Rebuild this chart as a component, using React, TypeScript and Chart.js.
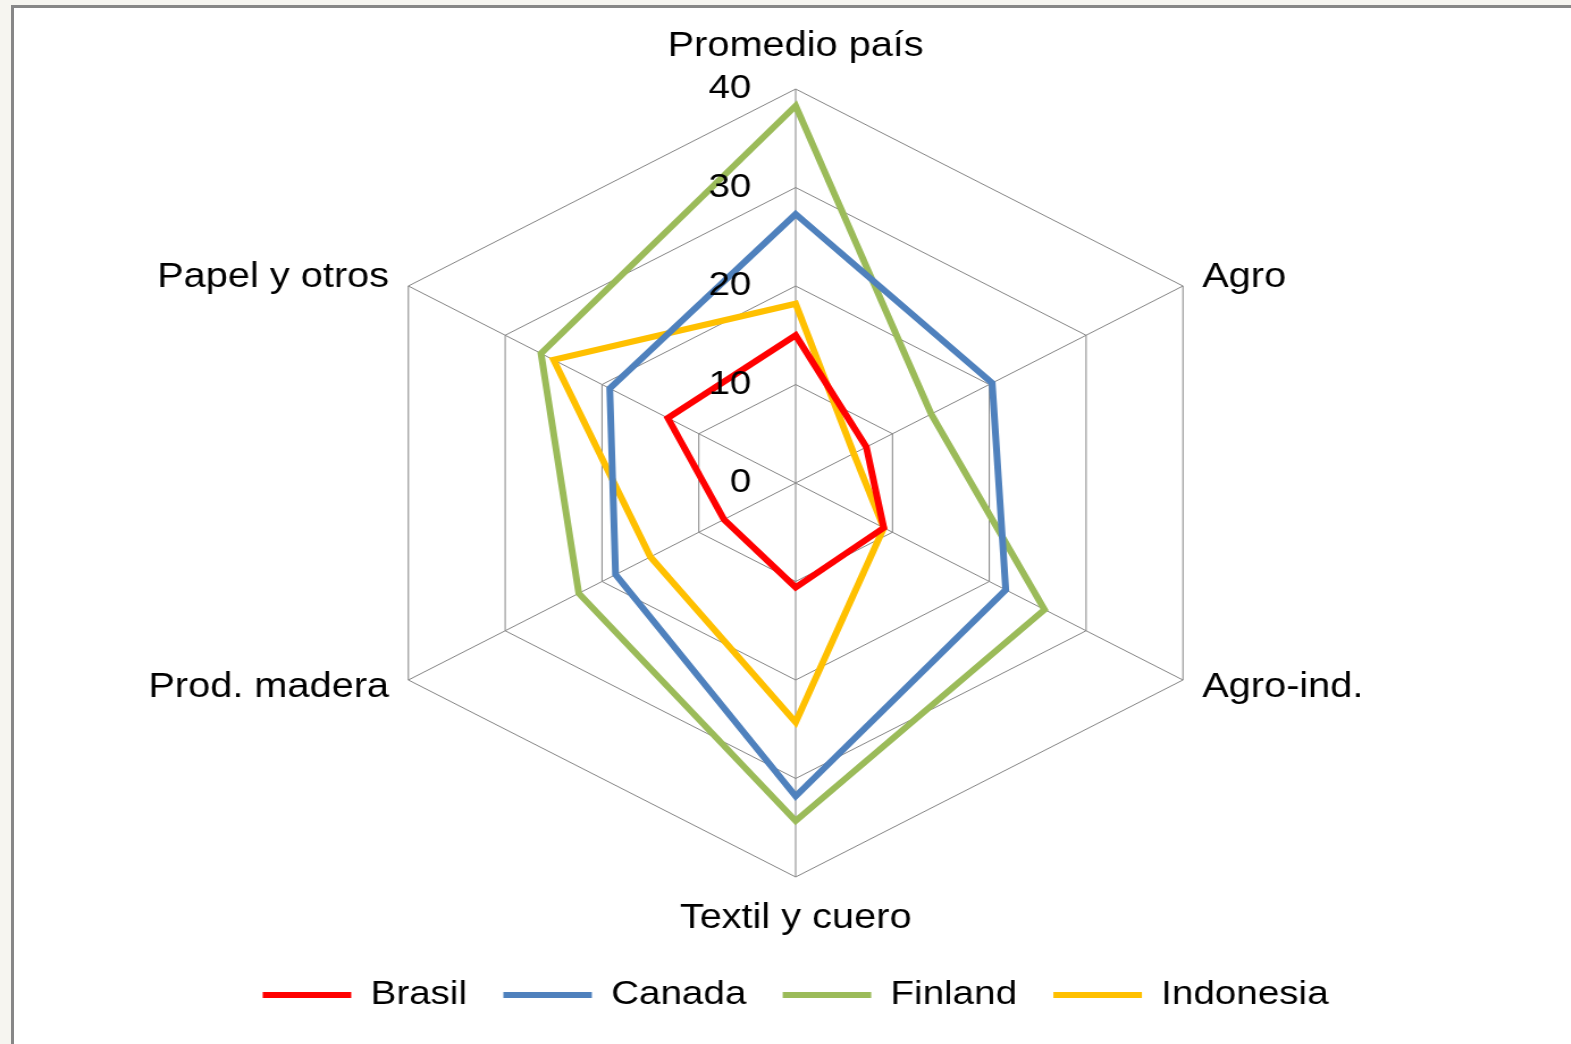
import { useEffect, useRef } from 'react';
import { Chart, registerables } from 'chart.js';

Chart.register(...registerables);

const categories = ['Promedio país', 'Agro', 'Agro-ind.', 'Textil y cuero', 'Prod. madera', 'Papel y otros'];
const seriesNames = ['Brasil', 'Canada', 'Finland', 'Indonesia'];
const brasil = [15, 7.3, 9.1, 10.6, 7.4, 13.2];
const canada = [27.3, 20.3, 21.7, 31.8, 18.6, 19.2];
const finland = [38.3, 14, 25.7, 34.3, 22.4, 26.3];
const indonesia = [18.2, 6, 9.1, 24.3, 15, 25];
const tickLabels = ['0', '10', '20', '30', '40'];

const seriesColors = ['#FF0000', '#4F81BD', '#9BBB59', '#FFC000'];

const FONT = '"Liberation Sans", Arial, sans-serif';
const K = 1.135; // horizontal stretch of the original picture
const PAGE_W = 1571;
const PAGE_H = 1044;
const CW = Math.round(PAGE_W / K);

const excelLabels = {
  id: 'excelLabels',
  afterDatasetsDraw(chart: any) {
    const scale = chart.scales.r;
    const ctx = chart.ctx as CanvasRenderingContext2D;
    ctx.save();
    ctx.fillStyle = '#000';
    // value axis labels, right-aligned left of the vertical axis
    ctx.font = `34px ${FONT}`;
    ctx.textAlign = 'right';
    ctx.textBaseline = 'middle';
    scale.ticks.forEach((t: any) => {
      const d = scale.getDistanceFromCenterForValue(t.value);
      ctx.fillText(String(t.label), scale.xCenter - 39, scale.yCenter - d);
    });
    // category labels
    ctx.font = `35px ${FONT}`;
    ctx.textBaseline = 'alphabetic';
    const labels = chart.data.labels as string[];
    labels.forEach((lab, i) => {
      const p = scale.getPointPosition(i, scale.drawingArea);
      const deg = Math.round((scale.getIndexAngle(i) * 180) / Math.PI) % 360;
      let x = p.x;
      let y = p.y;
      if (deg === 0) {
        ctx.textAlign = 'center';
        y -= 33;
      } else if (deg === 180) {
        ctx.textAlign = 'center';
        y += 51;
      } else {
        const right = deg < 180;
        ctx.textAlign = right ? 'left' : 'right';
        x += right ? 17 : -17;
        y += deg < 90 || deg > 270 ? 1 : 17;
      }
      ctx.fillText(lab, x, y);
    });
    ctx.restore();
  },
};

export default function App() {
  const ref = useRef<HTMLCanvasElement>(null);

  useEffect(() => {
    const canvas = ref.current;
    if (!canvas) return;
    Chart.defaults.font.family = FONT;
    Chart.defaults.color = '#000';
    const values = [brasil, canada, finland, indonesia];
    const chart = new Chart(canvas, {
      type: 'radar',
      data: {
        labels: categories,
        datasets: seriesNames.map((name, i) => ({
          label: name,
          data: values[i],
          borderColor: seriesColors[i],
          backgroundColor: seriesColors[i],
          borderWidth: 6,
          borderCapStyle: 'round',
          borderJoinStyle: 'miter',
          pointRadius: 0,
          pointHoverRadius: 0,
          fill: false,
          tension: 0,
        })),
      } as any,
      options: {
        animation: false,
        responsive: false,
        devicePixelRatio: 1,
        events: [],
        layout: { padding: { left: 18, right: 0, top: 89, bottom: 22 } },
        plugins: {
          tooltip: { enabled: false },
          legend: {
            position: 'bottom',
            title: { display: true, text: '', padding: { top: 57, bottom: 0 }, font: { size: 10 } },
            labels: {
              usePointStyle: true,
              pointStyle: 'line',
              pointStyleWidth: 78,
              padding: 32,
              color: '#000',
              font: { family: FONT, size: 34 },
            },
          },
        },
        scales: {
          r: {
            min: 0,
            max: 40,
            ticks: {
              stepSize: 10,
              display: false,
              callback: (_v: any, i: number) => tickLabels[i],
            },
            pointLabels: { display: false },
            grid: { color: '#848484', lineWidth: 1 },
            angleLines: { color: '#848484', lineWidth: 1 },
          },
        },
      } as any,
      plugins: [excelLabels],
    });
    return () => chart.destroy();
  }, []);

  return (
    <div
      style={{
        position: 'fixed',
        left: 0,
        top: 0,
        width: PAGE_W,
        height: PAGE_H,
        overflow: 'hidden',
        background: '#f6f5f0',
      }}
    >
      <div
        style={{
          position: 'absolute',
          left: 11,
          top: 5,
          right: -20,
          bottom: -20,
          background: '#ffffff',
          borderLeft: '3px solid #878787',
          borderTop: '3px solid #878787',
        }}
      />
      <div
        style={{
          position: 'absolute',
          left: 0,
          top: 0,
          width: CW,
          height: PAGE_H,
          transform: `scaleX(${K})`,
          transformOrigin: '0 0',
        }}
      >
        <canvas ref={ref} width={CW} height={PAGE_H} />
      </div>
    </div>
  );
}
